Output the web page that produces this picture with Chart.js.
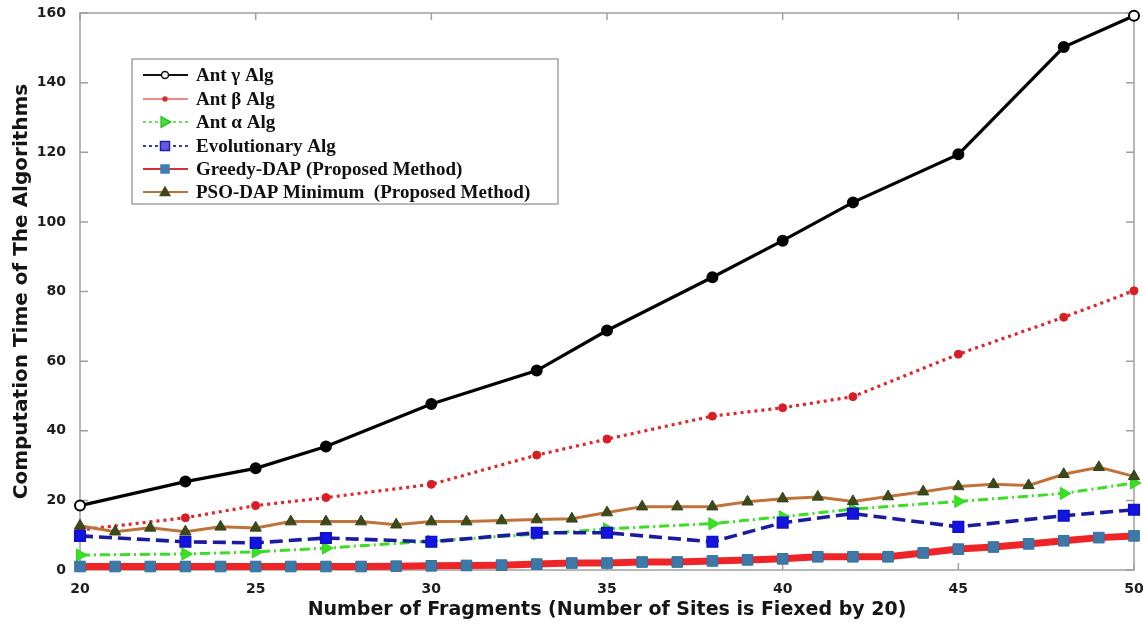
<!DOCTYPE html>
<html>
<head>
<meta charset="utf-8">
<script src="https://cdn.jsdelivr.net/npm/chart.js@4/dist/chart.umd.min.js"></script>
<style>
  html, body { margin: 0; padding: 0; background: #fff; }
  #wrap { width: 1143px; height: 630px; position: relative; }
</style>
</head>
<body>
<div id="wrap"><canvas id="timeChart"></canvas></div>
<script>
// x values (number of fragments)
const sparseX = [20, 23, 25, 27, 30, 33, 35, 38, 40, 42, 45, 48, 50];
const fullX = [20, 21, 22, 23, 24, 25, 26, 27, 28, 29, 30, 31, 32, 33, 34, 35,
               36, 37, 38, 39, 40, 41, 42, 43, 44, 45, 46, 47, 48, 49, 50];

// computation times
const antGamma = [18.5, 25.4, 29.2, 35.5, 47.7, 57.3, 68.8, 84.1, 94.6, 105.6, 119.4, 150.2, 159.2];
const antBeta = [11.5, 15, 18.5, 20.8, 24.6, 33, 37.6, 44.2, 46.6, 49.8, 62, 72.6, 80.2];
const antAlpha = [4.3, 4.6, 5.2, 6.3, 8.3, 10.3, 11.8, 13.3, 15.3, 17.5, 19.7, 22, 25];
const evolutionary = [9.8, 8.1, 7.8, 9.2, 8.1, 10.7, 10.7, 8.1, 13.6, 16.2, 12.4, 15.6, 17.3];
const greedyDap = [1, 1, 1, 1, 1, 1, 1, 1, 1, 1.1, 1.2, 1.3, 1.4, 1.7, 2, 2,
                   2.3, 2.3, 2.6, 2.9, 3.2, 3.8, 3.8, 3.8, 4.9, 6, 6.6, 7.5, 8.4, 9.3, 9.8];
const psoDap = [12.7, 11, 12.1, 11, 12.4, 12.1, 13.9, 13.9, 13.9, 13, 13.9, 13.9, 14.2, 14.5, 14.7, 16.5,
                18.2, 18.2, 18.2, 19.6, 20.5, 21, 19.7, 21.1, 22.5, 24, 24.6, 24.3, 27.5, 29.5, 26.9];

const seriesLabels = ['Ant \u03b3 Alg', 'Ant \u03b2 Alg', 'Ant \u03b1 Alg', 'Evolutionary Alg',
                      'Greedy-DAP (Proposed Method)', 'PSO-DAP Minimum  (Proposed Method)'];

function pairs(xs, ys) {
    return xs.map((x, i) => ({ x: x, y: ys[i] }));
}

// small marker painter used by the legend box
function marker(ctx, style, x, y, r, fill, stroke, rot) {
    ctx.save();
    ctx.translate(x, y);
    ctx.rotate((rot || 0) * Math.PI / 180);
    ctx.beginPath();
    if (style === 'circle') {
        ctx.arc(0, 0, r, 0, Math.PI * 2);
    } else if (style === 'rect') {
        ctx.rect(-r, -r, 2 * r, 2 * r);
    } else if (style === 'triangle') {
        ctx.moveTo(0, -r);
        ctx.lineTo(r * 0.95, r * 0.7);
        ctx.lineTo(-r * 0.95, r * 0.7);
        ctx.closePath();
    }
    ctx.fillStyle = fill;
    ctx.fill();
    ctx.lineWidth = 1.5;
    ctx.strokeStyle = stroke;
    ctx.stroke();
    ctx.restore();
}

// box around the plot with inward ticks (matlab look)
const framePlugin = {
    id: 'frame',
    beforeDatasetsDraw(chart) {
        const ctx = chart.ctx;
        const a = chart.chartArea;
        const xs = chart.scales.x, ys = chart.scales.y;
        ctx.save();
        ctx.strokeStyle = '#a0a0a0';
        ctx.lineWidth = 1.5;
        ctx.strokeRect(a.left, a.top, a.right - a.left, a.bottom - a.top);
        ctx.beginPath();
        xs.ticks.forEach(t => {
            const px = xs.getPixelForValue(t.value);
            ctx.moveTo(px, a.bottom); ctx.lineTo(px, a.bottom - 7);
            ctx.moveTo(px, a.top); ctx.lineTo(px, a.top + 7);
        });
        ys.ticks.forEach(t => {
            const py = ys.getPixelForValue(t.value);
            ctx.moveTo(a.left, py); ctx.lineTo(a.left + 8, py);
            ctx.moveTo(a.right, py); ctx.lineTo(a.right - 8, py);
        });
        ctx.stroke();
        ctx.restore();
    }
};

// legend box drawn inside the plot, upper left
const legendPlugin = {
    id: 'boxLegend',
    afterDraw(chart) {
        const ctx = chart.ctx;
        const bx = 132, by = 59, bw = 426, bh = 145;
        ctx.save();
        ctx.fillStyle = '#fff';
        ctx.fillRect(bx, by, bw, bh);
        ctx.strokeStyle = '#8c8c8c';
        ctx.lineWidth = 1.2;
        ctx.strokeRect(bx, by, bw, bh);

        const samples = [
            { color: '#111', dash: [], mk: 'circle', r: 3.5, fill: '#fff', stroke: '#111' },
            { color: '#f08a8a', dash: [], mk: 'circle', r: 2, fill: '#d92b2b', stroke: '#d92b2b' },
            { color: '#6fe060', dash: [3, 3], mk: 'triangle', r: 5.5, fill: '#4be03a', stroke: '#2fc01f', rot: 90 },
            { color: '#3a3aa8', dash: [3, 3], mk: 'rect', r: 4.5, fill: '#6a5ae0', stroke: '#2020b0' },
            { color: '#d8303a', dash: [], mk: 'rect', r: 4, fill: '#3f7fb0', stroke: '#3f7fb0' },
            { color: '#b8723a', dash: [], mk: 'triangle', r: 5, fill: '#3b4a1c', stroke: '#3b4a1c' }
        ];
        const rowY = [75, 99, 122, 146, 169, 192];
        ctx.font = 'bold 19px "Liberation Serif", serif';
        ctx.textBaseline = 'middle';
        samples.forEach((s, i) => {
            const y = rowY[i];
            ctx.beginPath();
            ctx.setLineDash(s.dash);
            ctx.strokeStyle = s.color;
            ctx.lineWidth = 2.2;
            ctx.moveTo(143, y);
            ctx.lineTo(188, y);
            ctx.stroke();
            ctx.setLineDash([]);
            marker(ctx, s.mk, 165, y, s.r, s.fill, s.stroke, s.rot);
            ctx.fillStyle = '#111';
            ctx.fillText(seriesLabels[i], 196, y + 1);
        });
        ctx.restore();
    }
};

const ctx = document.getElementById('timeChart').getContext('2d');

const timeChart = new Chart(ctx, {
    type: 'line',
    data: {
        datasets: [
            {
                label: seriesLabels[0],
                data: pairs(sparseX, antGamma),
                borderColor: '#000',
                borderWidth: 3.2,
                pointStyle: 'circle',
                pointRadius: 5,
                pointBorderWidth: 2,
                pointBorderColor: '#000',
                pointBackgroundColor: c => (c.dataIndex === 0 || c.dataIndex === sparseX.length - 1) ? '#fff' : '#000',
                clip: false,
                order: 4
            },
            {
                label: seriesLabels[1],
                data: pairs(sparseX, antBeta),
                borderColor: '#e0262c',
                borderWidth: 3.2,
                borderDash: [3, 4],
                pointStyle: 'circle',
                pointRadius: 4,
                pointBorderWidth: 1,
                pointBorderColor: '#d81e24',
                pointBackgroundColor: '#d81e24',
                clip: false,
                order: 5
            },
            {
                label: seriesLabels[2],
                data: pairs(sparseX, antAlpha),
                borderColor: '#3ddc26',
                borderWidth: 3,
                borderDash: [10, 4, 2, 4],
                pointStyle: 'triangle',
                rotation: 90,
                pointRadius: 7,
                pointBorderWidth: 1,
                pointBorderColor: '#2ed61a',
                pointBackgroundColor: '#3ae022',
                clip: false,
                order: 3
            },
            {
                label: seriesLabels[3],
                data: pairs(sparseX, evolutionary),
                borderColor: '#1b1ba0',
                borderWidth: 3.6,
                borderDash: [13, 6],
                pointStyle: 'rect',
                pointRadius: 7.5,
                pointBorderWidth: 1.5,
                pointBorderColor: '#1010c8',
                pointBackgroundColor: '#1414e0',
                clip: false,
                order: 1
            },
            {
                label: seriesLabels[4],
                data: pairs(fullX, greedyDap),
                borderColor: '#ee2426',
                borderWidth: 7,
                pointStyle: 'rect',
                pointRadius: 7.5,
                pointBorderWidth: 1,
                pointBorderColor: '#34709f',
                pointBackgroundColor: '#3c79a9',
                clip: false,
                order: 0
            },
            {
                label: seriesLabels[5],
                data: pairs(fullX, psoDap),
                borderColor: '#bf733a',
                borderWidth: 3,
                pointStyle: 'triangle',
                pointRadius: 6.5,
                pointBorderWidth: 1,
                pointBorderColor: '#34421a',
                pointBackgroundColor: '#3b4a1c',
                clip: false,
                order: 2
            }
        ]
    },
    options: {
        responsive: true,
        maintainAspectRatio: false,
        animation: false,
        layout: {
            padding: { top: 13, right: 8, left: 0, bottom: 0 }
        },
        plugins: {
            legend: { display: false },
            tooltip: { enabled: false }
        },
        elements: {
            line: { tension: 0, fill: false }
        },
        scales: {
            x: {
                type: 'linear',
                min: 20,
                max: 50,
                ticks: {
                    stepSize: 5,
                    padding: 11,
                    color: '#1e1e1e',
                    font: { family: '"DejaVu Sans", sans-serif', weight: 'bold', size: 14 }
                },
                grid: { display: false, drawTicks: false },
                border: { display: false },
                title: {
                    display: true,
                    text: 'Number of Fragments (Number of Sites is Fiexed by 20)',
                    color: '#151515',
                    padding: { top: 0, bottom: 9 },
                    font: { family: '"DejaVu Sans", sans-serif', weight: 'bold', size: 19 }
                },
                afterFit(scale) {
                    scale.height = 60;
                    scale.paddingLeft = 0;
                    scale.paddingRight = 0;
                }
            },
            y: {
                min: 0,
                max: 160,
                ticks: {
                    stepSize: 20,
                    padding: 14,
                    color: '#1e1e1e',
                    font: { family: '"DejaVu Sans", sans-serif', weight: 'bold', size: 14 }
                },
                grid: { display: false, drawTicks: false },
                border: { display: false },
                title: {
                    display: true,
                    text: 'Computation Time of The Algorithms',
                    color: '#151515',
                    padding: { top: 10, bottom: 0 },
                    font: { family: '"DejaVu Sans", sans-serif', weight: 'bold', size: 20 }
                },
                afterFit(scale) {
                    scale.width = 80;
                    scale.paddingTop = 0;
                    scale.paddingBottom = 0;
                }
            }
        }
    },
    plugins: [framePlugin, legendPlugin]
});
</script>
</body>
</html>
